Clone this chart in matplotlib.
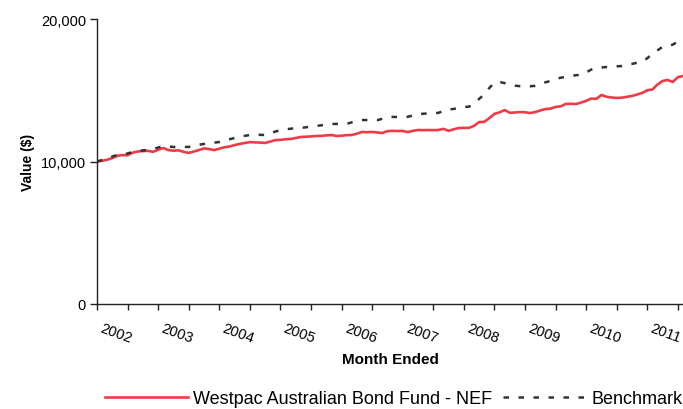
import matplotlib.pyplot as plt
import matplotlib.transforms as mtransforms
import numpy as np

plt.rcParams['font.family'] = ['Liberation Sans', 'DejaVu Sans']

# monthly values (month 0 = start of 2002 label)
fund = [10000, 10050, 10120, 10240, 10400, 10450, 10440, 10620, 10700, 10730,
        10750, 10680, 10820, 10950, 10800, 10760, 10780, 10680, 10600, 10700,
        10800, 10920, 10870, 10800, 10900, 11000, 11050, 11150, 11230, 11300,
        11360, 11340, 11330, 11300, 11400, 11500, 11520, 11560, 11580, 11650,
        11720, 11740, 11760, 11790, 11800, 11830, 11860, 11790, 11810, 11850,
        11860, 11950, 12070, 12060, 12070, 12040, 12000, 12130, 12150, 12140,
        12140, 12070, 12150, 12210, 12200, 12210, 12200, 12210, 12290, 12150,
        12260, 12350, 12360, 12360, 12500, 12770, 12780, 13050, 13340, 13450,
        13610, 13420, 13440, 13470, 13460, 13400, 13470, 13580, 13680, 13710,
        13830, 13870, 14040, 14050, 14030, 14140, 14250, 14420, 14390, 14670,
        14540, 14490, 14460, 14480, 14540, 14600, 14700, 14810, 15000, 15050,
        15400, 15650, 15720, 15580, 15920, 16000]

benchmark = [10000, 10100, 10200, 10350, 10460, 10500, 10560, 10670, 10720, 10780,
             10810, 10870, 10980, 11090, 11050, 11020, 11000, 11020, 11020, 11100,
             11180, 11230, 11260, 11320, 11370, 11460, 11560, 11650, 11740, 11800,
             11860, 11860, 11870, 11860, 11990, 12100, 12200, 12260, 12300, 12350,
             12360, 12400, 12460, 12490, 12540, 12600, 12630, 12640, 12630, 12640,
             12750, 12850, 12910, 12910, 12920, 12900, 13000, 13100, 13130, 13120,
             13110, 13140, 13230, 13330, 13350, 13380, 13400, 13410, 13560, 13650,
             13690, 13750, 13820, 13850, 14050, 14400, 14700, 15160, 15550, 15580,
             15500, 15400, 15320, 15290, 15300, 15280, 15310, 15420, 15560, 15650,
             15770, 15880, 15930, 15990, 16060, 16070, 16250, 16450, 16560, 16600,
             16630, 16630, 16680, 16700, 16790, 16850, 16930, 16990, 17250, 17550,
             17800, 18050, 18120, 18200, 18420, 18500]

years = ['2002', '2003', '2004', '2005', '2006', '2007', '2008', '2009', '2010', '2011']

months = np.arange(len(fund))

fig = plt.figure(figsize=(6.83, 4.10), dpi=100)
ax = fig.add_axes([97 / 683, 1 - 305 / 410, 1 - 97 / 683, 285 / 410])

ax.plot(months, fund, color='#EF3B45', lw=1.9,
        label='Westpac Australian Bond Fund - NEF')
ax.plot(months, benchmark, color='#333333', lw=1.8, linestyle=(0, (2.2, 3.8)),
        label='Benchmark')

ax.set_xlim(0, len(fund) - 1)
ax.set_ylim(0, 20000)
ax.set_yticks([0, 10000, 20000])
ax.set_yticklabels(['0', '10,000', '20,000'])

ax.set_xticks(np.arange(0, len(fund), 12))
ax.set_xticklabels(years, rotation=-20, ha='left', va='top', rotation_mode='anchor')
ax.set_xticks(np.arange(6, len(fund), 12), minor=True)
ax.tick_params(axis='x', which='both', direction='out', length=4, width=1,
               color='#222222', labelsize=10.5, pad=8)
ax.tick_params(axis='y', direction='out', length=5, width=1, color='#222222',
               labelsize=10.5, pad=3)

offset = mtransforms.ScaledTranslation(6 / 100, 0, fig.dpi_scale_trans)
for lbl in ax.get_xticklabels():
    lbl.set_transform(lbl.get_transform() + offset)

for side in ['top', 'right']:
    ax.spines[side].set_visible(False)
for side in ['left', 'bottom']:
    ax.spines[side].set_color('#222222')
    ax.spines[side].set_linewidth(1)

ax.set_ylabel('Value ($)', fontsize=10, fontweight='bold', labelpad=4)
ax.set_xlabel('Month Ended', fontsize=11, fontweight='bold', labelpad=5)

fig.legend(loc='center', bbox_to_anchor=(394 / 683, 1 - 400 / 410), ncol=2,
           frameon=False, fontsize=13, handlelength=4.6, handletextpad=0.3,
           columnspacing=0.6)

fig.savefig('out.png', dpi=100)
